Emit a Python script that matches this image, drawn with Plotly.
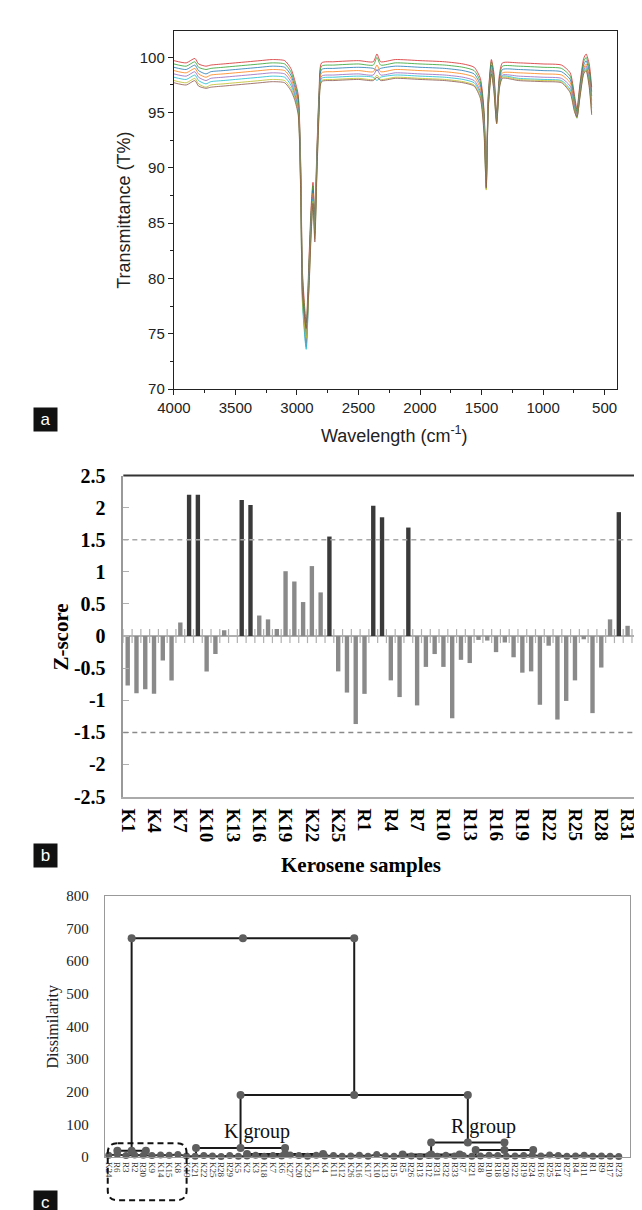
import plotly.graph_objects as go

W, H = 642, 1210


def fx(px):
    return px / W


def fy(py):
    return 1 - py / H


# ---------------- Panel a : FTIR spectra ----------------
wavenumber = [4000, 3900, 3830, 3800, 3740, 3700, 3600, 3500, 3400, 3300,
              3200, 3100, 3050, 3020, 2990, 2970, 2955, 2925, 2900, 2885,
              2870, 2855, 2840, 2820, 2800, 2700, 2500, 2380, 2350, 2320,
              2200, 2000, 1800, 1650, 1560, 1510, 1480, 1462, 1445, 1420,
              1400, 1377, 1355, 1330, 1200, 1000, 850, 780, 745, 725,
              700, 670, 650, 625, 605]

spectrum_1 = [99.7, 99.5, 99.9, 99.4, 99.2, 99.3, 99.4, 99.5, 99.6, 99.7,
              99.8, 99.7, 99.0, 98.0, 96.6, 90.5, 80.5, 76.0, 82.5, 86.5,
              88.7, 85.5, 91.0, 97.0, 99.5, 99.6, 99.7, 99.6, 100.3, 99.6,
              99.8, 99.7, 99.6, 99.4, 99.1, 98.1, 95.2, 89.5, 96.6, 99.8,
              98.6, 94.8, 98.4, 99.5, 99.5, 99.4, 99.3, 98.6, 96.6, 95.3,
              97.6, 99.9, 100.3, 99.4, 97.3]
spectrum_2 = [99.4, 99.2, 99.6, 99.1, 98.9, 99.0, 99.1, 99.2, 99.3, 99.4,
              99.5, 99.4, 98.7, 97.7, 96.3, 90.0, 80.0, 75.4, 82.0, 86.0,
              88.4, 85.1, 90.6, 96.7, 99.2, 99.3, 99.4, 99.3, 100.0, 99.3,
              99.5, 99.4, 99.3, 99.1, 98.8, 97.8, 94.9, 89.2, 96.4, 99.6,
              98.3, 94.6, 98.1, 99.2, 99.2, 99.1, 99.0, 98.3, 96.3, 95.1,
              97.4, 99.6, 100.0, 99.0, 96.9]
spectrum_3 = [99.1, 98.9, 99.3, 98.8, 98.5, 98.7, 98.8, 98.9, 99.0, 99.1,
              99.2, 99.1, 98.4, 97.4, 96.0, 89.5, 79.3, 74.8, 81.6, 85.6,
              88.0, 84.7, 90.2, 96.4, 98.9, 99.0, 99.1, 99.0, 98.8, 99.0,
              99.2, 99.1, 99.0, 98.8, 98.5, 97.5, 94.6, 88.9, 96.2, 99.3,
              98.0, 94.4, 97.9, 98.9, 98.9, 98.8, 98.7, 98.0, 96.0, 94.9,
              97.2, 99.3, 99.7, 98.7, 96.5]
spectrum_4 = [98.8, 98.6, 99.0, 98.5, 98.2, 98.4, 98.5, 98.6, 98.7, 98.8,
              98.9, 98.8, 98.1, 97.1, 95.7, 89.0, 78.8, 74.2, 81.2, 85.2,
              87.7, 84.4, 89.9, 96.1, 98.6, 98.7, 98.8, 98.7, 99.3, 98.7,
              98.9, 98.8, 98.7, 98.5, 98.2, 97.2, 94.3, 88.6, 96.0, 99.0,
              97.8, 94.3, 97.7, 98.6, 98.6, 98.5, 98.4, 97.7, 95.8, 94.7,
              97.0, 99.0, 99.4, 98.3, 96.1]
spectrum_5 = [98.5, 98.3, 98.7, 98.2, 97.9, 98.1, 98.2, 98.3, 98.4, 98.5,
              98.6, 98.5, 97.8, 96.8, 95.4, 88.5, 78.2, 73.8, 80.8, 84.8,
              87.4, 84.1, 89.6, 95.8, 98.3, 98.4, 98.5, 98.4, 98.9, 98.4,
              98.6, 98.5, 98.4, 98.2, 97.9, 96.9, 94.0, 88.3, 95.8, 98.8,
              97.6, 94.2, 97.5, 98.4, 98.3, 98.2, 98.1, 97.4, 95.6, 94.6,
              96.8, 98.8, 99.2, 98.0, 95.7]
spectrum_6 = [98.2, 98.0, 98.4, 97.9, 97.6, 97.8, 97.9, 98.0, 98.1, 98.2,
              98.3, 98.2, 97.5, 96.6, 95.2, 88.2, 77.6, 73.6, 80.4, 84.5,
              87.2, 83.9, 89.3, 95.5, 98.1, 98.2, 98.3, 98.2, 97.9, 98.2,
              98.4, 98.3, 98.2, 98.0, 97.7, 96.7, 93.7, 88.1, 95.6, 98.7,
              97.3, 94.1, 97.4, 98.3, 98.1, 98.0, 97.9, 97.1, 95.4, 94.5,
              96.6, 98.7, 99.0, 97.7, 95.4]
spectrum_7 = [97.9, 97.7, 98.1, 97.6, 97.3, 97.5, 97.6, 97.7, 97.8, 97.9,
              98.0, 97.9, 97.2, 96.4, 95.0, 88.0, 77.8, 74.6, 80.0, 84.2,
              87.0, 83.6, 89.0, 95.2, 97.9, 98.0, 98.1, 98.0, 98.4, 98.0,
              98.2, 98.1, 98.0, 97.8, 97.5, 96.5, 93.4, 88.0, 95.5, 98.6,
              97.1, 94.0, 97.3, 98.2, 98.0, 97.9, 97.8, 96.9, 95.2, 94.5,
              96.5, 98.6, 98.9, 97.5, 95.0]
spectrum_8 = [97.7, 97.5, 97.9, 97.4, 97.2, 97.3, 97.4, 97.5, 97.6, 97.7,
              97.8, 97.7, 97.0, 96.2, 94.8, 87.8, 78.5, 75.5, 79.8, 84.0,
              86.8, 83.3, 88.8, 95.0, 97.8, 97.9, 98.0, 97.9, 98.2, 97.9,
              98.1, 98.0, 97.9, 97.7, 97.4, 96.3, 93.1, 88.2, 95.4, 98.5,
              97.0, 94.0, 97.2, 98.1, 97.9, 97.8, 97.7, 96.8, 95.1, 94.6,
              96.4, 98.5, 98.8, 97.3, 94.8]
spectra = [spectrum_1, spectrum_2, spectrum_3, spectrum_4,
           spectrum_5, spectrum_6, spectrum_7, spectrum_8]
spectrum_colors = ["#d62728", "#2ca02c", "#1f77b4", "#ff7f0e",
                   "#9467bd", "#17becf", "#bcbd22", "#8c564b"]

# ---------------- Panel b : Z-scores ----------------
samples = [f"K{i}" for i in range(1, 28)] + [f"R{i}" for i in range(1, 34)]
z_scores = [-0.77, -0.89, -0.83, -0.90, -0.38, -0.69, 0.21, 2.20, 2.20, -0.55,
            -0.28, 0.09, 0.00, 2.12, 2.04, 0.32, 0.26, 0.11, 1.01, 0.85,
            0.53, 1.09, 0.68, 1.55, -0.55, -0.88, -1.37, -0.90, 2.03, 1.85,
            -0.69, -0.95, 1.69, -1.08, -0.48, -0.28, -0.48, -1.28, -0.37, -0.42,
            -0.06, -0.07, -0.25, -0.10, -0.33, -0.57, -0.55, -1.07, -0.15, -1.30,
            -1.01, -0.69, -0.05, -1.20, -0.49, 0.26, 1.93, 0.16, -0.34, 0.00]
z_limit = 1.5
z_tick_values = [2.5, 2, 1.5, 1, 0.5, 0, -0.5, -1, -1.5, -2, -2.5]
z_tick_text = ["2.5", "2", "1.5", "1", "0.5", "0", "-0.5", "-1", "-1.5", "-2", "-2.5"]

# ---------------- Panel c : dendrogram ----------------
leaf_labels = ["K24", "R6", "R3", "R2", "R30", "K9", "K14", "K15", "K8",
               "K19", "K21", "K22", "K25", "R28", "R29", "K5", "K2", "K3", "K18",
               "K7", "K6", "K27", "K20", "K23", "K1", "K4", "K11", "K12", "K26",
               "K16", "K17", "K10", "K13",
               "R15", "R5", "R26", "R13", "R12", "R31", "R32", "R33", "R7", "R21",
               "R8", "R10", "R18", "R20", "R22", "R19", "R24", "R16", "R25", "R14",
               "R27", "R4", "R11", "R1", "R9", "R17", "R23"]
leaf_heights = [6, 8, 5, 7, 6, 5, 7, 6, 8,
                4, 3, 5, 4, 2, 5, 3, 4, 6, 3, 5, 4, 7, 5, 3, 6, 4, 5, 3, 4, 6, 3, 8, 4,
                3, 5, 4, 2, 5, 3, 6, 4, 5, 3, 4, 6, 5, 3, 4, 5, 6, 4, 7, 5, 3, 4, 6, 3,
                4, 3, 2]
# merge nodes: left / right child position (leaf units), merge height, child heights
node_left = [1.0, 16.0, 10.1, 34.0, 42.45, 37.3, 15.25, 2.65]
node_right = [4.3, 24.8, 20.4, 40.6, 49.1, 45.78, 41.54, 28.4]
node_height = [20, 10, 28, 8, 22, 45, 190, 670]
node_left_child_h = [6, 4, 8, 4, 6, 8, 28, 20]
node_right_child_h = [6, 5, 10, 4, 5, 22, 45, 190]
group_names = ["K group", "R group"]
group_nodes = [2, 5]
group_label_h = [79, 94]

fig = go.Figure()

# Panel a traces
for s, c in zip(spectra, spectrum_colors):
    fig.add_trace(go.Scatter(x=wavenumber, y=s, mode="lines",
                             line=dict(color=c, width=0.8, shape="spline", smoothing=0.6),
                             xaxis="x", yaxis="y", showlegend=False, hoverinfo="skip"))

# Panel b traces
idx = list(range(len(samples)))
bar_colors = ["#3a3a3a" if abs(z) > z_limit else "#8a8a8a" for z in z_scores]
fig.add_trace(go.Bar(x=idx, y=z_scores, marker=dict(color=bar_colors, line=dict(width=0)),
                     width=0.5, xaxis="x2", yaxis="y2", showlegend=False))
bounds = [i - 0.5 for i in range(len(samples) + 1)]
fig.add_trace(go.Scatter(x=bounds, y=[0] * len(bounds), mode="markers",
                         marker=dict(symbol="line-ns", size=10,
                                     line=dict(width=1.2, color="#b0b0b0")),
                         xaxis="x2", yaxis="y2", showlegend=False, hoverinfo="skip"))

# Panel c traces
lx, ly = [], []
for i in range(len(node_height)):
    l, r, h = node_left[i], node_right[i], node_height[i]
    lx += [l, l, r, r, None]
    ly += [node_left_child_h[i], h, h, node_right_child_h[i], None]
fig.add_trace(go.Scatter(x=lx, y=ly, mode="lines", line=dict(color="#1a1a1a", width=2),
                         xaxis="x3", yaxis="y3", showlegend=False, cliponaxis=False,
                         hoverinfo="skip"))
fig.add_trace(go.Scatter(x=list(range(len(leaf_labels))), y=leaf_heights,
                         mode="lines+markers", line=dict(color="#333333", width=2),
                         marker=dict(color="#5e5e5e", size=7),
                         xaxis="x3", yaxis="y3", showlegend=False, cliponaxis=False,
                         hoverinfo="skip"))
dx, dy = [], []
for i in range(len(node_height)):
    l, r, h = node_left[i], node_right[i], node_height[i]
    dx += [l, (l + r) / 2, r]
    dy += [h, h, h]
fig.add_trace(go.Scatter(x=dx, y=dy, mode="markers", marker=dict(color="#5e5e5e", size=8),
                         xaxis="x3", yaxis="y3", showlegend=False, cliponaxis=False,
                         hoverinfo="skip"))

serif = "Liberation Serif"
sans = "Liberation Sans"

layout = dict(
    width=W, height=H, margin=dict(l=0, r=0, t=0, b=0),
    paper_bgcolor="white", plot_bgcolor="white", showlegend=False, bargap=0.5,
    xaxis=dict(domain=[fx(153), fx(608)], range=[4000, 400], anchor="y",
               tickmode="linear", tick0=0, dtick=500,
               ticks="outside", ticklen=5, tickcolor="#222", showline=True, mirror=True,
               linecolor="#222", linewidth=1.3, showgrid=False, zeroline=False,
               tickfont=dict(family=sans, size=15, color="#222"),
               minor=dict(ticks="outside", ticklen=3, tickmode="linear", tick0=0, dtick=250,
                          tickcolor="#222", showgrid=False)),
    yaxis=dict(domain=[fy(377), fy(12)], range=[70, 102.4], anchor="x",
               tickmode="linear", tick0=0, dtick=5,
               ticks="outside", ticklen=5, tickcolor="#222", showline=True, mirror=True,
               linecolor="#222", linewidth=1.3, showgrid=False, zeroline=False,
               tickfont=dict(family=sans, size=15, color="#222"),
               minor=dict(ticks="outside", ticklen=3, tickmode="linear", tick0=0, dtick=2.5,
                          tickcolor="#222", showgrid=False)),
    xaxis2=dict(domain=[fx(101), fx(641.5)], range=[-0.5, len(samples) - 0.5], anchor="y2",
                tickmode="array", tickvals=idx[::3], ticktext=samples[::3], tickangle=90,
                ticks="", showline=True, linecolor="#aaaaaa", linewidth=2,
                showgrid=False, zeroline=False, ticklabelstandoff=6,
                tickfont=dict(family=serif, size=19, color="black", weight="bold")),
    yaxis2=dict(domain=[fy(792), fy(465)], range=[-2.5, 2.5], anchor="x2",
                tickmode="array", tickvals=z_tick_values, ticktext=z_tick_text,
                ticks="inside", ticklen=6, tickcolor="#b0b0b0", showline=True,
                linecolor="#999999", linewidth=1.5, showgrid=False,
                zeroline=True, zerolinecolor="#b0b0b0", zerolinewidth=1.5,
                ticklabelstandoff=12,
                tickfont=dict(family=serif, size=20, color="black", weight="bold")),
    xaxis3=dict(domain=[fx(82), fx(621)], range=[-0.45, 60.25], anchor="y3",
                tickmode="array", tickvals=list(range(len(leaf_labels))), ticktext=leaf_labels,
                tickangle=90, ticks="", showline=True, mirror=True, linecolor="#999999",
                linewidth=1, showgrid=False, zeroline=False, ticklabelstandoff=2,
                tickfont=dict(family=serif, size=9, color="#333")),
    yaxis3=dict(domain=[fy(1159.3), fy(893)], range=[0, 800], anchor="x3",
                tickmode="linear", tick0=0, dtick=100, ticks="", showline=True, mirror=True,
                linecolor="#999999", linewidth=1, showgrid=False, zeroline=False,
                ticklabelstandoff=12,
                tickfont=dict(family=serif, size=15, color="#222")),
)
fig.update_layout(**layout)

shapes = [
    dict(type="line", xref="x2 domain", yref="y2", x0=0, x1=1, y0=z_limit, y1=z_limit,
         line=dict(color="#a8a8a8", width=1.5, dash="5px,4px")),
    dict(type="line", xref="x2 domain", yref="y2", x0=0, x1=1, y0=-z_limit, y1=-z_limit,
         line=dict(color="#8a8a8a", width=1.5, dash="5px,4px")),
    dict(type="line", xref="x2 domain", yref="y2 domain", x0=0, x1=1, y0=1, y1=1,
         line=dict(color="#333333", width=2)),
    dict(type="line", xref="x2 domain", yref="y2 domain", x0=1, x1=1, y0=0, y1=1,
         line=dict(color="#d0d0d0", width=1)),
]
# dashed rounded box around the outlier leaves (panel c)
x0, x1 = fx(85), fx(166)
y0, y1 = fy(1203), fy(1145)
rx, ry = 10 / W, 10 / H
path = (f"M {x0+rx},{y1} L {x1-rx},{y1} Q {x1},{y1} {x1},{y1-ry} "
        f"L {x1},{y0+ry} Q {x1},{y0} {x1-rx},{y0} L {x0+rx},{y0} "
        f"Q {x0},{y0} {x0},{y0+ry} L {x0},{y1-ry} Q {x0},{y1} {x0+rx},{y1} Z")
shapes.append(dict(type="path", xref="paper", yref="paper", path=path,
                   line=dict(color="#111", width=2, dash="6px,4px")))
fig.update_layout(shapes=shapes)

ann = [
    dict(text="Transmittance (T%)", x=fx(102), y=fy(195), textangle=-90,
         font=dict(family=sans, size=18, color="#222")),
    dict(text="Wavelength (cm<sup>-1</sup>)", x=fx(380), y=fy(423),
         font=dict(family=sans, size=18, color="#222")),
    dict(text="<b>Z-score</b>", x=fx(37), y=fy(630), textangle=-90,
         font=dict(family=serif, size=21, color="black")),
    dict(text="<b>Kerosene samples</b>", x=fx(345), y=fy(862),
         font=dict(family=serif, size=21, color="black")),
    dict(text="Dissimilarity", x=fx(29), y=fy(1026), textangle=-90,
         font=dict(family=serif, size=16, color="#222")),
]
for lab, cy in zip(["a", "b", "c"], [407.5, 851.5, 1205]):
    ann.append(dict(text=lab, x=fx(21.5), y=fy(cy), width=21, height=21, bgcolor="#111",
                    font=dict(family=sans, size=17, color="white")))
for a in ann:
    a.update(xref="paper", yref="paper", showarrow=False, xanchor="center", yanchor="middle")
for name, n, h in zip(group_names, group_nodes, group_label_h):
    ann.append(dict(text=name, x=(node_left[n] + node_right[n]) / 2, y=h, xref="x3", yref="y3",
                    xshift=16, showarrow=False, xanchor="center", yanchor="middle",
                    font=dict(family=serif, size=20, color="#111")))
fig.update_layout(annotations=ann)

fig.write_html("out.html")
